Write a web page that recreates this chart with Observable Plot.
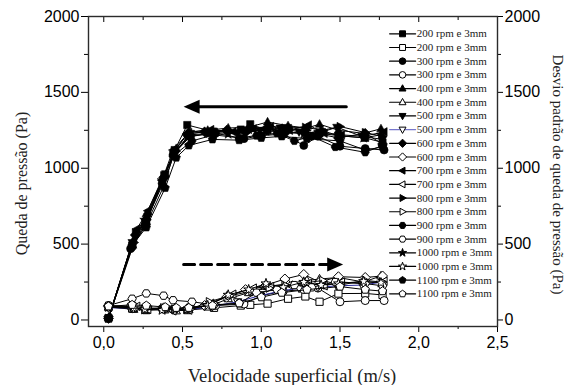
<!DOCTYPE html>
<html>
<head>
<meta charset="utf-8">
<script src="https://cdn.jsdelivr.net/npm/d3@7"></script>
<script src="https://cdn.jsdelivr.net/npm/@observablehq/plot@0.6"></script>
<style>
  html, body { margin: 0; padding: 0; background: #fff; }
  #chart svg { display: block; }
  #chart svg g[aria-label="text"], #chart svg g[aria-label="text"] text { font-family: "Liberation Serif", "Times New Roman", serif !important; }
  #chart svg g[aria-label$="tick label"], #chart svg g[aria-label$="tick label"] text { font-family: "Liberation Sans", Arial, sans-serif !important; }
</style>
</head>
<body>
<div id="chart"></div>
<script>
// ---------- data ----------
const rpms = [200, 300, 400, 500, 600, 700, 800, 900, 1000, 1100];
const legendLabels = rpms.map(r => `${r} rpm e 3mm`);

const vel200  = [0.03, 0.18, 0.27, 0.39, 0.45, 0.53, 0.70, 0.87, 0.93, 1.04, 1.17, 1.28, 1.37, 1.49, 1.66, 1.77];
const vel300  = [0.03, 0.17, 0.26, 0.37, 0.44, 0.55, 0.71, 0.89, 1.00, 1.14, 1.27, 1.36, 1.50, 1.66, 1.78];
const vel400  = [0.03, 0.19, 0.27, 0.38, 0.46, 0.54, 0.66, 0.79, 0.92, 1.04, 1.17, 1.29, 1.37, 1.49, 1.65, 1.76];
const vel500  = [0.03, 0.18, 0.28, 0.39, 0.45, 0.55, 0.69, 0.85, 0.99, 1.12, 1.24, 1.36, 1.48, 1.64, 1.77];
const vel600  = [0.03, 0.20, 0.27, 0.38, 0.45, 0.53, 0.64, 0.78, 0.90, 1.03, 1.15, 1.27, 1.37, 1.49, 1.66, 1.77];
const vel700  = [0.03, 0.21, 0.28, 0.37, 0.44, 0.54, 0.68, 0.82, 0.95, 1.06, 1.18, 1.30, 1.40, 1.51, 1.65, 1.78];
const vel800  = [0.03, 0.20, 0.26, 0.38, 0.45, 0.55, 0.67, 0.80, 0.94, 1.05, 1.15, 1.28, 1.39, 1.50, 1.66, 1.77];
const vel900  = [0.03, 0.18, 0.27, 0.38, 0.44, 0.56, 0.70, 0.86, 0.97, 1.10, 1.21, 1.32, 1.47, 1.66, 1.77];
const vel1000 = [0.03, 0.19, 0.26, 0.37, 0.45, 0.53, 0.66, 0.79, 0.92, 1.03, 1.14, 1.27, 1.38, 1.49, 1.65, 1.76];
const vel1100 = [0.03, 0.18, 0.27, 0.39, 0.46, 0.54, 0.69, 0.86, 1.00, 1.13, 1.29, 1.50, 1.66, 1.77];

// pressure drop (Pa), filled symbols
const dp200  = [12, 490, 650, 960, 1120, 1285, 1240, 1255, 1290, 1250, 1265, 1240, 1230, 1215, 1200, 1170];
const dp300  = [10, 470, 620, 900, 1090, 1210, 1230, 1195, 1215, 1225, 1150, 1210, 1145, 1130, 1120];
const dp400  = [15, 530, 700, 950, 1130, 1240, 1250, 1265, 1270, 1305, 1280, 1265, 1290, 1250, 1230, 1260];
const dp500  = [12, 510, 680, 930, 1100, 1230, 1245, 1230, 1250, 1265, 1240, 1230, 1270, 1210, 1190];
const dp600  = [10, 560, 660, 940, 1110, 1225, 1240, 1250, 1235, 1260, 1230, 1240, 1225, 1200, 1230, 1160];
const dp700  = [14, 600, 720, 920, 1120, 1235, 1255, 1240, 1260, 1275, 1250, 1285, 1230, 1220, 1210, 1240];
const dp800  = [12, 575, 640, 950, 1105, 1220, 1230, 1245, 1255, 1280, 1265, 1270, 1250, 1275, 1235, 1210];
const dp900  = [10, 480, 630, 880, 1080, 1180, 1220, 1200, 1215, 1230, 1180, 1210, 1140, 1105, 1150];
const dp1000 = [12, 500, 660, 920, 1100, 1205, 1230, 1225, 1255, 1245, 1240, 1225, 1250, 1215, 1200, 1220];
const dp1100 = [10, 490, 610, 870, 1070, 1150, 1190, 1185, 1200, 1210, 1195, 1180, 1120, 1140];

// standard deviation of pressure drop (Pa), open symbols
const sd200  = [85, 75, 65, 70, 72, 65, 80, 95, 100, 108, 140, 155, 120, 174, 175, 165];
const sd300  = [95, 90, 80, 75, 70, 85, 95, 105, 160, 190, 200, 210, 120, 128, 128];
const sd400  = [85, 70, 65, 72, 60, 68, 85, 140, 180, 220, 240, 260, 270, 280, 250, 290];
const sd500  = [80, 80, 70, 75, 65, 70, 90, 120, 160, 190, 210, 215, 225, 230, 250];
const sd600  = [90, 85, 75, 80, 70, 75, 95, 150, 200, 230, 270, 300, 250, 285, 280, 290];
const sd700  = [85, 90, 70, 75, 60, 65, 110, 170, 210, 220, 230, 240, 225, 250, 240, 255];
const sd800  = [90, 75, 68, 80, 70, 72, 120, 160, 190, 210, 230, 245, 260, 230, 260, 250];
const sd900  = [95, 140, 175, 160, 130, 120, 100, 110, 180, 200, 230, 215, 250, 240, 225];
const sd1000 = [85, 80, 70, 65, 75, 70, 95, 165, 200, 240, 215, 250, 230, 240, 255, 245];
const sd1100 = [90, 100, 95, 85, 80, 80, 95, 110, 150, 180, 200, 220, 200, 190];

const xMajor = [0, 0.5, 1, 1.5, 2, 2.5];
const xMinor = [0.25, 0.75, 1.25, 1.75, 2.25];
const yMajor = [0, 500, 1000, 1500, 2000];
const yMinor = [250, 750, 1250, 1750];

// arrows: [start, tip] velocity, and pressure level
const solidArrowX = [1.54, 0.507];
const solidArrowY = 1405;
const dashedArrowX = [0.507, 1.52];
const dashedArrowY = 365;

// ---------- symbols ----------
function poly(verts) {
  return {
    draw(ctx, size) {
      const R = Math.sqrt(size / Math.PI);
      verts.forEach(([a, b], i) => i ? ctx.lineTo(a * R, b * R) : ctx.moveTo(a * R, b * R));
      ctx.closePath();
    }
  };
}
function regular(n, rad, rot) {
  return d3.range(n).map(k => {
    const a = rot + k * 2 * Math.PI / n;
    return [rad * Math.cos(a), rad * Math.sin(a)];
  });
}
const circleSym = { draw(ctx, size) { const R = Math.sqrt(size / Math.PI); ctx.moveTo(R, 0); ctx.arc(0, 0, R, 0, 2 * Math.PI); } };
const symSquare = poly([[-0.9, -0.9], [0.9, -0.9], [0.9, 0.9], [-0.9, 0.9]]);
const symUp = poly([[0, -1.15], [1.05, 0.75], [-1.05, 0.75]]);
const symDown = poly([[0, 1.15], [1.05, -0.75], [-1.05, -0.75]]);
const symLeft = poly([[-1.15, 0], [0.75, -1.05], [0.75, 1.05]]);
const symRight = poly([[1.15, 0], [-0.75, -1.05], [-0.75, 1.05]]);
const symDiamond = poly([[0, -1.25], [1.25, 0], [0, 1.25], [-1.25, 0]]);
const symHex = poly(regular(6, 1.05, 0));
const symPent = poly(regular(5, 1.1, -Math.PI / 2));
const symStar = poly(d3.range(10).map(k => {
  const a = -Math.PI / 2 + k * Math.PI / 5, r = k % 2 ? 0.5 : 1.3;
  return [r * Math.cos(a), r * Math.sin(a)];
}));
const shapes = [symSquare, circleSym, symUp, symDown, symDiamond, symLeft, symRight, symHex, symStar, symPent];

const headLeft = { draw(ctx) { ctx.moveTo(0, 0); ctx.lineTo(16, -7); ctx.lineTo(16, 7); ctx.closePath(); } };
const headRight = { draw(ctx) { ctx.moveTo(0, 0); ctx.lineTo(-16, -7); ctx.lineTo(-16, 7); ctx.closePath(); } };

// ---------- build ----------
const vels = [vel200, vel300, vel400, vel500, vel600, vel700, vel800, vel900, vel1000, vel1100];
const dps = [dp200, dp300, dp400, dp500, dp600, dp700, dp800, dp900, dp1000, dp1100];
const sds = [sd200, sd300, sd400, sd500, sd600, sd700, sd800, sd900, sd1000, sd1100];

const BLUE = "#2a2a9a";
const filledMarks = [], openMarks = [];
rpms.forEach((rpm, i) => {
  const pf = vels[i].map((v, j) => ({ x: v, y: dps[i][j] }));
  const po = vels[i].map((v, j) => ({ x: v, y: sds[i][j] }));
  filledMarks.push(Plot.line(pf, { x: "x", y: "y", stroke: "black", strokeWidth: 1 }));
  filledMarks.push(Plot.dot(pf, { x: "x", y: "y", symbol: shapes[i], r: 4, fill: "black", stroke: "black", strokeWidth: 0.6 }));
  openMarks.push(Plot.line(po, { x: "x", y: "y", stroke: rpm === 500 ? BLUE : "black", strokeWidth: 1 }));
  openMarks.push(Plot.dot(po, { x: "x", y: "y", symbol: shapes[i], r: 4, fill: "white", stroke: "black", strokeWidth: 1 }));
});

// legend rows (20 entries: filled then open for each rpm)
const legendRows = [];
rpms.forEach((rpm, i) => {
  legendRows.push({ label: legendLabels[i], shape: shapes[i], filled: true, line: "black" });
  legendRows.push({ label: legendLabels[i], shape: shapes[i], filled: false, line: rpm === 500 ? "#7777cc" : "black" });
});
legendRows.forEach((d, k) => { d.y = 1886 - k * 90.2; });
const legendMarks = [];
legendRows.forEach(d => {
  legendMarks.push(Plot.line([{ x: 1.815, y: d.y }, { x: 1.98, y: d.y }], { x: "x", y: "y", stroke: d.line, strokeWidth: 1.2 }));
  legendMarks.push(Plot.dot([d], { x: () => 1.897, y: "y", symbol: d.shape, r: 3.3, fill: d.filled ? "black" : "white", stroke: "black", strokeWidth: 1 }));
});
const serif = "Liberation Serif";
legendMarks.push(Plot.text(legendRows, {
  x: () => 1.988, y: "y", text: "label", textAnchor: "start",
  fontFamily: serif, fontSize: 11, fill: "#222"
}));

const fmtX = d => d.toFixed(1).replace(".", ",");
const fmtY = d => String(d);
const none = () => "";

const chart = Plot.plot({
  width: 573, height: 385,
  marginLeft: 88, marginRight: 76, marginTop: 16, marginBottom: 59,
  x: { domain: [-0.097, 2.5] },
  y: { domain: [-43, 2000] },
  style: { fontFamily: "Liberation Sans", fontSize: "16px", background: "white", color: "black", overflow: "visible" },
  marks: [
    Plot.axisX(xMajor, { anchor: "bottom", tickSize: 6, tickPadding: 4, tickFormat: fmtX, label: null, fontSize: 16 }),
    Plot.axisX(xMinor, { anchor: "bottom", tickSize: 3, tickFormat: none, label: null }),
    Plot.axisX(xMajor, { anchor: "top", tickSize: 5, dy: 5, tickFormat: none, label: null }),
    Plot.axisX(xMinor, { anchor: "top", tickSize: 3, dy: 3, tickFormat: none, label: null }),
    Plot.axisY(yMajor, { anchor: "left", tickSize: 7, tickPadding: 2, tickFormat: fmtY, label: null, fontSize: 16 }),
    Plot.axisY(yMinor, { anchor: "left", tickSize: 4, tickFormat: none, label: null }),
    Plot.axisY(yMajor, { anchor: "right", tickSize: 5, tickPadding: 2, tickFormat: fmtY, label: null, fontSize: 16 }),
    Plot.axisY(yMinor, { anchor: "right", tickSize: 3, tickFormat: none, label: null }),
    ...filledMarks,
    ...openMarks,
    // arrows
    Plot.line([{ x: solidArrowX[0], y: solidArrowY }, { x: solidArrowX[1] + 0.09, y: solidArrowY }], { x: "x", y: "y", stroke: "black", strokeWidth: 3 }),
    Plot.dot([{ x: solidArrowX[1], y: solidArrowY }], { x: "x", y: "y", symbol: headLeft, fill: "black", stroke: "none" }),
    Plot.line([{ x: dashedArrowX[0], y: dashedArrowY }, { x: dashedArrowX[1] - 0.09, y: dashedArrowY }], { x: "x", y: "y", stroke: "black", strokeWidth: 3, strokeDasharray: "11,6" }),
    Plot.dot([{ x: dashedArrowX[1], y: dashedArrowY }], { x: "x", y: "y", symbol: headRight, fill: "black", stroke: "none" }),
    ...legendMarks,
    Plot.frame({ stroke: "#2b2b2b", strokeWidth: 1.4 }),
    // axis titles
    Plot.text(["Queda de pressão (Pa)"], { text: d => d, frameAnchor: "left", textAnchor: "middle", lineAnchor: "middle", dx: -67, dy: 12, rotate: -90, fontFamily: serif, fontSize: 16, fill: "#222" }),
    Plot.text(["Desvio padrão de queda de pressão (Pa)"], { text: d => d, frameAnchor: "right", textAnchor: "middle", lineAnchor: "middle", dx: 60, dy: 3, rotate: 90, fontFamily: serif, fontSize: 15, fill: "#222" }),
    Plot.text(["Velocidade superficial (m/s)"], { text: d => d, frameAnchor: "bottom", textAnchor: "middle", lineAnchor: "middle", dx: -1, dy: 50, fontFamily: serif, fontSize: 18.5, fill: "#222" })
  ]
});
document.getElementById("chart").appendChild(chart);
</script>
</body>
</html>
